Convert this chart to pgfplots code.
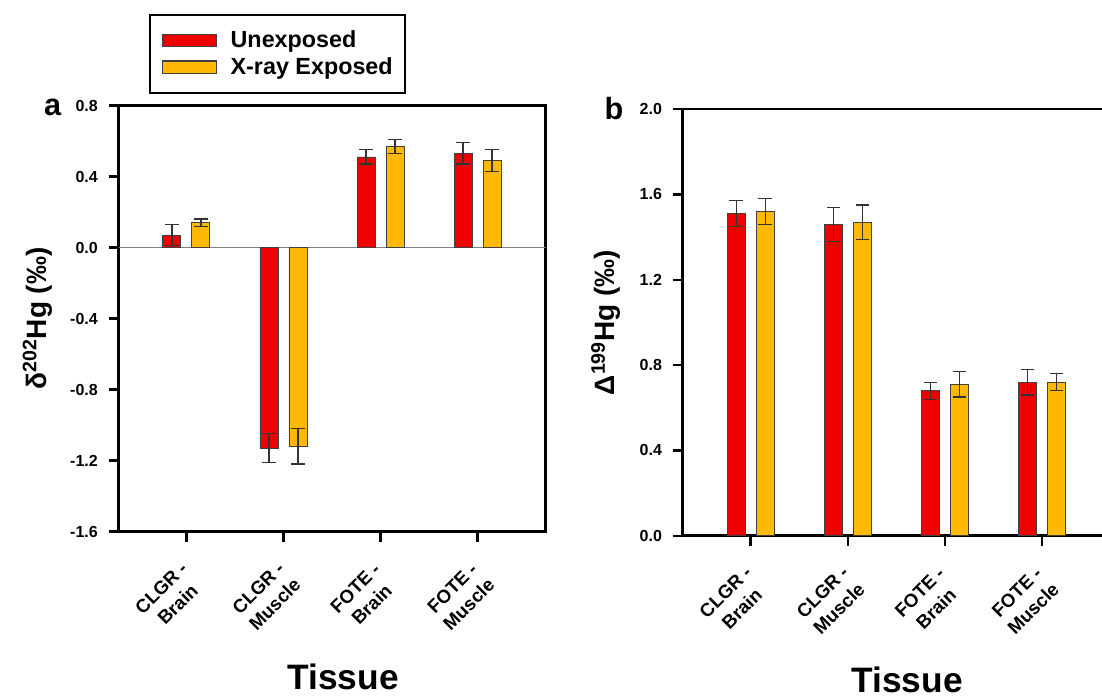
\documentclass[border=0pt]{standalone}
\usepackage{fontspec}
\setmainfont{Liberation Sans}
\usepackage{pgfplots}
\pgfplotsset{compat=1.18}
\definecolor{barred}{RGB}{238,0,0}
\definecolor{baryel}{RGB}{255,185,5}

\pgfplotsset{
  panel/.style={
    scale only axis, clip=false,
    ybar=8.25pt, bar width=13.5pt,
    xtick={0,1,2,3},
    xticklabels={{CLGR -\\Brain},{CLGR -\\Muscle},{FOTE -\\Brain},{FOTE -\\Muscle}},
    xmin=-0.7,
    tick align=outside, major tick length=7.5pt,
    tick style={line width=1.8pt, black},
    axis line style={line width=2pt},
    xticklabel style={xshift=-12.75pt, yshift=-41pt, rotate=45, anchor=center, align=center,
      font=\bfseries\fontsize{14}{17.5}\selectfont},
    yticklabel style={xshift=-4.5pt, /pgf/number format/fixed, /pgf/number format/fixed zerofill,
      /pgf/number format/precision=1, font=\bfseries\fontsize{12}{14}\selectfont},
    /pgf/number format/assume math mode=true,
    xlabel={Tissue},
    xlabel style={font=\bfseries\fontsize{26.5}{30}\selectfont, anchor=base, inner sep=0pt},
    ylabel style={font=\bfseries\fontsize{21}{24}\selectfont, anchor=base},
  },
  redbar/.style={fill=barred, draw=black!75, line width=0.7pt,
    error bars/.cd, y dir=both, y explicit,
    error bar style={line width=0.9pt, black!80},
    error mark options={rotate=90, line width=0.9pt, black!80, mark size=5pt}},
  yelbar/.style={fill=baryel, draw=black!75, line width=0.7pt,
    error bars/.cd, y dir=both, y explicit,
    error bar style={line width=0.9pt, black!80},
    error mark options={rotate=90, line width=0.9pt, black!80, mark size=5pt}},
}

\begin{document}
\begin{tikzpicture}
\path[use as bounding box] (0,0) rectangle (826.5pt,522pt);

% Panel a
\begin{axis}[panel,
  at={(88.875pt,123.375pt)}, anchor=south west,
  width=320.25pt, height=319.5pt,
  xmax=3.7, ymin=-1.6, ymax=0.8,
  ytick={-1.6,-1.2,-0.8,-0.4,0,0.4,0.8},
  tick pos=left,
  xlabel style={at={(axis description cs:0.526,-0.372)}},
  ylabel={δ\textsuperscript{202}Hg (‰)},
  ylabel style={at={(axis description cs:-0.169,0.5)}},
  legend image code/.code={\draw[#1, line width=0.8pt] (0pt,-4.75pt) rectangle (40.5pt,4.75pt);},
  legend style={at={(axis description cs:0.0714,1.2148)}, anchor=north west,
    draw=black, line width=1.5pt, font=\bfseries\fontsize{17.5}{20}\selectfont,
    inner xsep=9.3pt, inner ysep=12pt, row sep=6pt,
    nodes={inner sep=0pt},
    /tikz/every odd column/.append style={column sep=9.9pt}},
  legend cell align=left,
]
\draw[gray, line width=1.1pt] (axis cs:-0.7,0) -- (axis cs:3.7,0);
\addplot[redbar] coordinates {(0,0.07) +- (0,0.06) (1,-1.13) +- (0,0.08) (2,0.51) +- (0,0.04) (3,0.53) +- (0,0.06)};
\addplot[yelbar] coordinates {(0,0.14) +- (0,0.02) (1,-1.12) +- (0,0.10) (2,0.57) +- (0,0.04) (3,0.49) +- (0,0.06)};
\legend{Unexposed, X-ray Exposed}
\node[anchor=base east, font=\bfseries\fontsize{23}{26}\selectfont] at (axis description cs:-0.123,0.9754) {a};
\end{axis}

% Panel b
\begin{axis}[panel,
  at={(512pt,120.2pt)}, anchor=south west,
  width=314.5pt, height=320pt,
  xmax=3.618, ymin=0, ymax=2.0,
  ytick={0,0.4,0.8,1.2,1.6,2.0},
  axis x line*=box, axis y line*=left,
  xtick pos=left, ytick pos=left,
  xlabel style={at={(axis description cs:0.535,-0.368)}},
  ylabel={Δ\textsuperscript{199}Hg (‰)},
  ylabel style={at={(axis description cs:-0.1615,0.5)}},
]
\addplot[redbar] coordinates {(0,1.51) +- (0,0.06) (1,1.46) +- (0,0.08) (2,0.68) +- (0,0.04) (3,0.72) +- (0,0.06)};
\addplot[yelbar] coordinates {(0,1.52) +- (0,0.06) (1,1.47) +- (0,0.08) (2,0.71) +- (0,0.06) (3,0.72) +- (0,0.04)};
\node[anchor=base east, font=\bfseries\fontsize{23}{26}\selectfont] at (axis description cs:-0.130,0.976) {b};
\end{axis}
\end{tikzpicture}
\end{document}
